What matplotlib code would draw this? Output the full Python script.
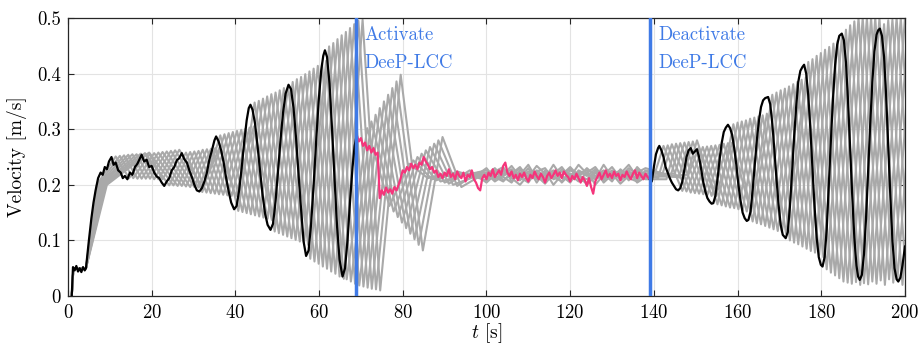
import numpy as np
import matplotlib
matplotlib.use("Agg")
import matplotlib.pyplot as plt

# fonts: computer modern look
plt.rcParams['font.family'] = ['cmr10', 'DejaVu Serif']
plt.rcParams['mathtext.fontset'] = 'cm'
plt.rcParams['axes.formatter.use_mathtext'] = True

# switching times of the controller
T_ON = 68.9
T_OFF = 139.1

X_TICKS = [0, 20, 40, 60, 80, 100, 120, 140, 160, 180, 200]
Y_TICKS = [0, 0.1, 0.2, 0.3, 0.4, 0.5]
Y_TICK_LABELS = ['0', '0.1', '0.2', '0.3', '0.4', '0.5']

# controlled vehicle before activation (black)
BLACK1_T = [0.9, 1.2, 1.6, 2.0, 2.4, 2.8, 3.2, 3.6, 4.0, 4.3, 5.0, 5.6, 6.1, 6.6, 7.2, 7.8,
            8.3, 8.8, 9.3, 9.8, 10.4, 10.9, 11.4, 12.0, 12.6, 13.1, 13.6, 14.2, 14.8, 15.4,
            16.0, 16.6, 17.1, 17.6, 18.2, 18.8, 19.4, 20.0, 20.6, 21.2, 21.8, 22.4, 23.0,
            23.6, 24.2, 24.8, 25.4, 26.0, 26.6, 27.2, 27.8, 28.4, 29.0, 29.6, 30.2, 30.8,
            31.4, 32.0, 32.6, 33.2, 33.8, 34.4, 35.0, 35.4, 36.0, 36.6, 37.2, 37.8, 38.4,
            39.0, 39.7, 40.3, 40.9, 41.5, 42.1, 42.7, 43.2, 43.6, 44.1, 44.7, 45.3, 45.9,
            46.5, 47.1, 47.7, 48.4, 49.0, 49.6, 50.2, 50.8, 51.4, 52.0, 52.7, 53.3, 53.9,
            54.5, 55.1, 55.7, 56.3, 56.9, 57.5, 58.1, 58.7, 59.3, 59.9, 60.5, 61.0, 61.4,
            61.9, 62.5, 63.1, 63.7, 64.3, 64.9, 65.6, 66.2, 66.8, 67.4, 68.0, 68.5, 69.0]
BLACK1_V = [0.0, 0.052, 0.046, 0.054, 0.044, 0.05, 0.043, 0.052, 0.046, 0.05, 0.1, 0.14, 0.168,
            0.19, 0.212, 0.222, 0.218, 0.232, 0.228, 0.242, 0.25, 0.236, 0.24, 0.226, 0.222,
            0.212, 0.216, 0.21, 0.222, 0.218, 0.232, 0.238, 0.246, 0.254, 0.242, 0.245, 0.232,
            0.234, 0.222, 0.215, 0.212, 0.204, 0.198, 0.206, 0.212, 0.226, 0.232, 0.244, 0.248,
            0.257, 0.246, 0.24, 0.226, 0.214, 0.2, 0.19, 0.188, 0.194, 0.206, 0.222, 0.246,
            0.262, 0.28, 0.287, 0.278, 0.262, 0.24, 0.212, 0.188, 0.168, 0.156, 0.162, 0.19,
            0.23, 0.276, 0.316, 0.338, 0.344, 0.335, 0.31, 0.27, 0.225, 0.182, 0.148, 0.128,
            0.119, 0.13, 0.17, 0.225, 0.282, 0.33, 0.364, 0.38, 0.372, 0.338, 0.284, 0.218,
            0.156, 0.098, 0.072, 0.082, 0.13, 0.2, 0.278, 0.35, 0.405, 0.432, 0.442, 0.43,
            0.382, 0.3, 0.21, 0.125, 0.065, 0.035, 0.05, 0.1, 0.17, 0.232, 0.27, 0.29]

# controlled vehicle while DeeP-LCC is on (pink), 0.5 s samples from 69 s to 139 s
PINK_V = [0.290, 0.278, 0.284, 0.270, 0.276, 0.262, 0.270, 0.258, 0.266, 0.254,
          0.258, 0.176, 0.190, 0.182, 0.195, 0.186, 0.192, 0.184, 0.196, 0.190,
          0.200, 0.212, 0.226, 0.222, 0.232, 0.226, 0.238, 0.230, 0.236, 0.228,
          0.240, 0.236, 0.250, 0.242, 0.236, 0.228, 0.232, 0.222, 0.226, 0.214,
          0.220, 0.212, 0.222, 0.216, 0.228, 0.214, 0.220, 0.210, 0.224, 0.216,
          0.212, 0.222, 0.206, 0.218, 0.214, 0.226, 0.210, 0.204, 0.194, 0.190,
          0.212, 0.218, 0.210, 0.222, 0.216, 0.228, 0.214, 0.220, 0.226, 0.218,
          0.234, 0.240, 0.222, 0.216, 0.224, 0.212, 0.218, 0.208, 0.220, 0.214,
          0.222, 0.212, 0.206, 0.218, 0.212, 0.224, 0.216, 0.210, 0.220, 0.214,
          0.204, 0.216, 0.222, 0.212, 0.218, 0.226, 0.216, 0.222, 0.212, 0.224,
          0.218, 0.214, 0.206, 0.216, 0.210, 0.220, 0.212, 0.204, 0.214, 0.208,
          0.198, 0.212, 0.196, 0.184, 0.206, 0.214, 0.222, 0.210, 0.218, 0.226,
          0.214, 0.220, 0.212, 0.224, 0.216, 0.220, 0.208, 0.218, 0.214, 0.224,
          0.216, 0.210, 0.220, 0.226, 0.212, 0.222, 0.216, 0.210, 0.220, 0.214,
          0.210]
PINK_T = np.linspace(69.0, 139.0, len(PINK_V))

# controlled vehicle after deactivation (black)
BLACK2_T = [139.0, 139.5, 140.0, 140.5, 141.0, 141.3, 141.8, 142.3, 142.8, 143.3, 143.8, 144.3,
            144.8, 145.3, 145.8, 146.3, 146.8, 147.3, 147.8, 148.3, 148.8, 149.3, 149.8,
            150.3, 150.8, 151.3, 151.8, 152.3, 152.8, 153.3, 153.8, 154.2, 154.7, 155.2,
            155.7, 156.2, 156.7, 157.2, 157.7, 158.2, 158.7, 159.2, 159.7, 160.2, 160.7,
            161.2, 161.7, 162.2, 162.6, 163.1, 163.6, 164.1, 164.6, 165.1, 165.6, 166.1,
            166.6, 167.3, 167.8, 168.3, 168.8, 169.3, 169.8, 170.3, 170.8, 171.5, 172.0,
            172.5, 173.0, 173.5, 174.0, 174.5, 175.0, 175.5, 175.9, 176.4, 176.9, 177.4,
            177.9, 178.4, 178.9, 179.4, 179.9, 180.3, 180.8, 181.3, 181.8, 182.3, 182.8,
            183.3, 183.8, 184.3, 184.9, 185.4, 185.9, 186.4, 186.9, 187.4, 187.9, 188.4,
            188.8, 189.2, 189.7, 190.2, 190.7, 191.2, 191.7, 192.2, 192.7, 193.2, 193.6,
            194.0, 194.5, 195.0, 195.5, 196.0, 196.5, 197.0, 197.5, 198.0, 198.4, 198.9,
            199.4, 200.0]
BLACK2_V = [0.210, 0.206, 0.232, 0.255, 0.266, 0.270, 0.262, 0.25, 0.232, 0.222, 0.212, 0.204,
            0.198, 0.192, 0.19, 0.194, 0.206, 0.228, 0.25, 0.262, 0.266, 0.256, 0.26, 0.264,
            0.25, 0.228, 0.205, 0.188, 0.176, 0.17, 0.166, 0.167, 0.18, 0.21, 0.245, 0.275,
            0.295, 0.303, 0.308, 0.302, 0.29, 0.266, 0.236, 0.2, 0.172, 0.15, 0.14, 0.135,
            0.137, 0.152, 0.19, 0.235, 0.28, 0.315, 0.34, 0.352, 0.356, 0.358, 0.345, 0.31,
            0.262, 0.21, 0.164, 0.128, 0.11, 0.104, 0.115, 0.16, 0.22, 0.285, 0.34, 0.385,
            0.405, 0.412, 0.416, 0.4, 0.36, 0.3, 0.228, 0.16, 0.105, 0.07, 0.056, 0.053,
            0.07, 0.12, 0.2, 0.28, 0.355, 0.415, 0.452, 0.468, 0.472, 0.46, 0.42, 0.35, 0.265,
            0.18, 0.105, 0.055, 0.035, 0.029, 0.038, 0.075, 0.14, 0.225, 0.31, 0.385, 0.44,
            0.47, 0.478, 0.481, 0.468, 0.43, 0.36, 0.27, 0.18, 0.1, 0.05, 0.03, 0.026, 0.033,
            0.055, 0.089]

# other vehicles (gray), key points
STEADY_T = [100, 102, 104, 106, 108, 110, 112, 114, 116, 118,
            120, 122, 124, 126, 128, 130, 132, 134, 136, 138]

G1_T = [0.9, 1.3, 4.3, 6.9, 11.4, 14.6, 18.6, 24.2, 28.2, 32.1, 36.4, 40.7, 44.6, 49.4, 53.7,
        57.9, 62.4, 66.6, 71.5, 76.8, 81.5, 86, 91] + STEADY_T + \
       [140, 142.3, 146.8, 150.7, 155.2, 159, 163.6, 168.3, 172.5, 176.9, 181.3, 185.9, 190.2,
        195, 199.4, 204]
G1_V = [0, 0.05, 0.05, 0.2, .251, .212, .255, .199, .258, .187, .289, .153, .348, .116, .385,
        .067, .449, .030, .302, .162, .238, .212, .222,
        .214, .226, .208, .220, .232, .212, .218, .206, .224, .216,
        .230, .210, .204, .222, .214, .226, .208, .218, .228, .212,
        .215, .270, .189, .267, .165, .309, .134, .362, .100, .421, .048, .479, .023, .489,
        .020, .488]

G2_T = [0.9, 1.3, 4.3, 7.2, 12.4, 15.6, 19.6, 25.2, 29.2, 33.1, 37.4, 41.7, 45.6, 50.4, 54.7,
        58.9, 63.4, 67.6, 72.5, 77.8, 82.5, 87, 92] + STEADY_T + \
       [141, 143.3, 147.8, 151.7, 156.2, 160, 164.6, 169.3, 173.5, 177.9, 182.3, 186.9, 191.2,
        196, 200.4, 205]
G2_V = [0, 0.05, 0.05, 0.2, .252, .212, .256, .199, .259, .186, .291, .151, .351, .113, .39,
        .062, .455, .026, .314, .152, .244, .21, .218,
        .222, .210, .218, .234, .214, .204, .226, .216, .212, .228,
        .218, .206, .222, .232, .212, .220, .202, .216, .224, .218,
        .212, .271, .188, .268, .163, .312, .131, .366, .096, .426, .042, .487, .021, .496,
        .020, .495]

G3_T = [0.9, 1.3, 4.3, 7.5, 13.4, 16.6, 20.6, 26.2, 30.2, 34.1, 38.4, 42.7, 46.6, 51.4, 55.7,
        59.9, 64.4, 68.6, 73.5, 78.8, 83.5, 88, 93] + STEADY_T + \
       [142, 144.3, 148.8, 152.7, 157.2, 161, 165.6, 170.3, 174.5, 178.9, 183.3, 187.9, 192.2,
        197, 201.4, 206]
G3_V = [0, 0.05, 0.05, 0.2, .253, .211, .257, .198, .26, .185, .293, .149, .355, .11, .394,
        .058, .462, .022, .326, .142, .25, .208, .224,
        .208, .220, .228, .212, .200, .218, .224, .230, .210, .216,
        .204, .226, .218, .210, .236, .214, .222, .212, .206, .226,
        .218, .273, .186, .269, .161, .314, .129, .370, .093, .432, .037, .494, .026, .497,
        .024, .497]

G4_T = [0.9, 1.3, 4.3, 7.8, 14.4, 17.6, 21.6, 27.2, 31.2, 35.1, 39.4, 43.7, 47.6, 52.4, 56.7,
        60.9, 65.4, 69.6, 74.5, 79.8, 84.5, 89, 94] + STEADY_T + \
       [143, 145.3, 149.8, 153.7, 158.2, 162, 166.6, 171.3, 175.5, 179.9, 184.3, 188.9, 193.2,
        198, 202.4, 207]
G4_V = [0, 0.05, 0.05, 0.2, .254, .211, .258, .198, .261, .184, .295, .147, .359, .107, .399,
        .053, .469, .019, .338, .132, .256, .206, .216,
        .226, .214, .206, .222, .218, .236, .210, .218, .226, .204,
        .220, .214, .230, .216, .208, .222, .214, .230, .218, .210,
        .21, .274, .185, .270, .159, .316, .126, .373, .089, .437, .032, .5, .022, .5,
        .03, .5]

G5_T = [0.9, 1.3, 4.3, 8.1, 15.4, 18.6, 22.6, 28.2, 32.2, 36.1, 40.4, 44.7, 48.6, 53.4, 57.7,
        61.9, 66.4, 70.6, 75.5, 80.8, 85.5, 90, 95] + STEADY_T + \
       [144, 146.3, 150.8, 154.7, 159.2, 163, 167.6, 172.3, 176.5, 180.9, 185.3, 189.9, 194.2,
        199, 203.4, 208]
G5_V = [0, 0.05, 0.05, 0.2, .255, .211, .259, .197, .263, .183, .297, .145, .363, .104, .404,
        .049, .475, .017, .35, .122, .262, .204, .22,
        .218, .230, .214, .204, .226, .220, .212, .224, .200, .218,
        .232, .216, .210, .224, .220, .206, .228, .214, .222, .230,
        .216, .275, .184, .271, .158, .319, .123, .377, .085, .443, .026, .5, .028, .5,
        .022, .5]

G6_T = [0.9, 1.3, 4.3, 8.4, 16.4, 19.6, 23.6, 29.2, 33.2, 37.1, 41.4, 45.7, 49.6, 54.4, 58.7,
        62.9, 67.4, 71.6, 76.5, 81.8, 86.5, 91, 96] + STEADY_T + \
       [145, 147.3, 151.8, 155.7, 160.2, 164, 168.6, 173.3, 177.5, 181.9, 186.3, 190.9, 195.2,
        200, 204.4, 209]
G6_V = [0, 0.05, 0.05, 0.2, .255, .211, .26, .196, .264, .182, .299, .143, .366, .101, .409,
        .044, .482, .015, .362, .112, .268, .202, .226,
        .204, .218, .224, .216, .230, .210, .222, .212, .236, .214,
        .208, .220, .226, .200, .218, .232, .212, .224, .210, .220,
        .22, .276, .183, .272, .156, .321, .120, .381, .081, .448, .024, .5, .02, .5,
        .026, .5]

G7_T = [0.9, 1.3, 4.3, 8.7, 17.4, 20.6, 24.6, 30.2, 34.2, 38.1, 42.4, 46.7, 50.6, 55.4, 59.7,
        63.9, 68.4, 72.6, 77.5, 82.8, 87.5, 92, 97] + STEADY_T + \
       [146, 148.3, 152.8, 156.7, 161.2, 165, 169.6, 174.3, 178.5, 182.9, 187.3, 191.9, 196.2,
        201, 205.4, 210]
G7_V = [0, 0.05, 0.05, 0.2, .256, .21, .261, .196, .265, .181, .301, .141, .37, .098, .414,
        .04, .489, .013, .374, .102, .274, .2, .214,
        .230, .212, .220, .228, .208, .224, .216, .202, .220, .232,
        .212, .224, .216, .228, .204, .218, .226, .208, .232, .216,
        .214, .277, .182, .274, .154, .323, .117, .385, .078, .454, .022, .5, .03, .5,
        .02, .5]

G8_T = [0.9, 1.3, 4.3, 9.0, 18.4, 21.6, 25.6, 31.2, 35.2, 39.1, 43.4, 47.7, 51.6, 56.4, 60.7,
        64.9, 69.4, 73.6, 78.5, 83.8, 88.5, 93, 98] + STEADY_T + \
       [147, 149.3, 153.8, 157.7, 162.2, 166, 170.6, 175.3, 179.5, 183.9, 188.3, 192.9, 197.2,
        202, 206.4, 211]
G8_V = [0, 0.05, 0.05, 0.2, .257, .21, .262, .195, .266, .18, .303, .139, .374, .095, .418,
        .035, .495, .012, .386, .092, .28, .198, .222,
        .212, .224, .232, .206, .222, .214, .234, .220, .214, .206,
        .226, .220, .200, .216, .226, .212, .220, .236, .214, .224,
        .212, .278, .180, .275, .152, .325, .115, .389, .074, .459, .025, .5, .024, .5,
        .028, .5]

G9_T = [0.9, 1.3, 4.3, 9.3, 19.4, 22.6, 26.6, 32.2, 36.2, 40.1, 44.4, 48.7, 52.6, 57.4, 61.7,
        65.9, 70.4, 74.6, 79.5, 84.8, 89.5, 94, 99] + STEADY_T + \
       [148, 150.3, 154.8, 158.7, 163.2, 167, 171.6, 176.3, 180.5, 184.9, 189.3, 193.9, 198.2,
        203, 207.4, 212]
G9_V = [0, 0.05, 0.05, 0.2, .258, .21, .263, .195, .267, .179, .305, .137, .377, .092, .423,
        .031, .497, .010, .398, .082, .286, .196, .218,
        .220, .206, .216, .224, .212, .230, .204, .226, .218, .224,
        .214, .236, .220, .212, .222, .210, .218, .226, .204, .214,
        .218, .280, .179, .276, .150, .328, .112, .393, .070, .465, .02, .5, .03, .5,
        .02, .5]

GRAY = [(G1_T, G1_V), (G2_T, G2_V), (G3_T, G3_V), (G4_T, G4_V), (G5_T, G5_V),
        (G6_T, G6_V), (G7_T, G7_V), (G8_T, G8_V), (G9_T, G9_V)]

gray_c = '#a9a9a9'
pink_c = '#f5357b'
blue_c = '#3f7ae6'
fs = 13.5

fig = plt.figure(figsize=(9.21, 3.47), dpi=100)
ax = fig.add_axes([0.0738, 0.147, 0.9088, 0.801])

# other vehicles
for t, v in GRAY:
    ax.plot(t, v, color=gray_c, lw=1.5, zorder=2)

# controlled vehicle
ax.plot(BLACK1_T, BLACK1_V, color='black', lw=1.6, zorder=3)
ax.plot(BLACK2_T, BLACK2_V, color='black', lw=1.6, zorder=3)
ax.plot(PINK_T, PINK_V, color=pink_c, lw=1.6, zorder=3)

# switching lines
ax.axvline(T_ON, color=blue_c, lw=2.5, zorder=4)
ax.axvline(T_OFF, color=blue_c, lw=2.5, zorder=4)
ax.text(T_ON + 1.9, 0.46, 'Activate', color=blue_c, fontsize=fs, va='baseline', zorder=5)
ax.text(T_ON + 1.9, 0.41, 'DeeP-LCC', color=blue_c, fontsize=fs, va='baseline', zorder=5)
ax.text(T_OFF + 1.9, 0.46, 'Deactivate', color=blue_c, fontsize=fs, va='baseline', zorder=5)
ax.text(T_OFF + 1.9, 0.41, 'DeeP-LCC', color=blue_c, fontsize=fs, va='baseline', zorder=5)

ax.set_xlim(0, 200)
ax.set_ylim(0, 0.5)
ax.set_xticks(X_TICKS)
ax.set_yticks(Y_TICKS)
ax.set_yticklabels(Y_TICK_LABELS)
ax.tick_params(direction='in', top=True, right=True, labelsize=fs, length=4,
               width=0.8, color='#262626')
ax.tick_params(axis='x', pad=6)
ax.tick_params(axis='y', pad=5)
ax.grid(True, color='#e3e3e3', lw=0.8, zorder=0)
ax.set_axisbelow(True)
for s in ax.spines.values():
    s.set_color('#262626')
    s.set_linewidth(0.9)

ax.set_xlabel(r'$t$ [s]', fontsize=14, labelpad=-1)
ax.set_ylabel('Velocity [m/s]', fontsize=14, labelpad=7)

fig.savefig('out.png', dpi=100)
